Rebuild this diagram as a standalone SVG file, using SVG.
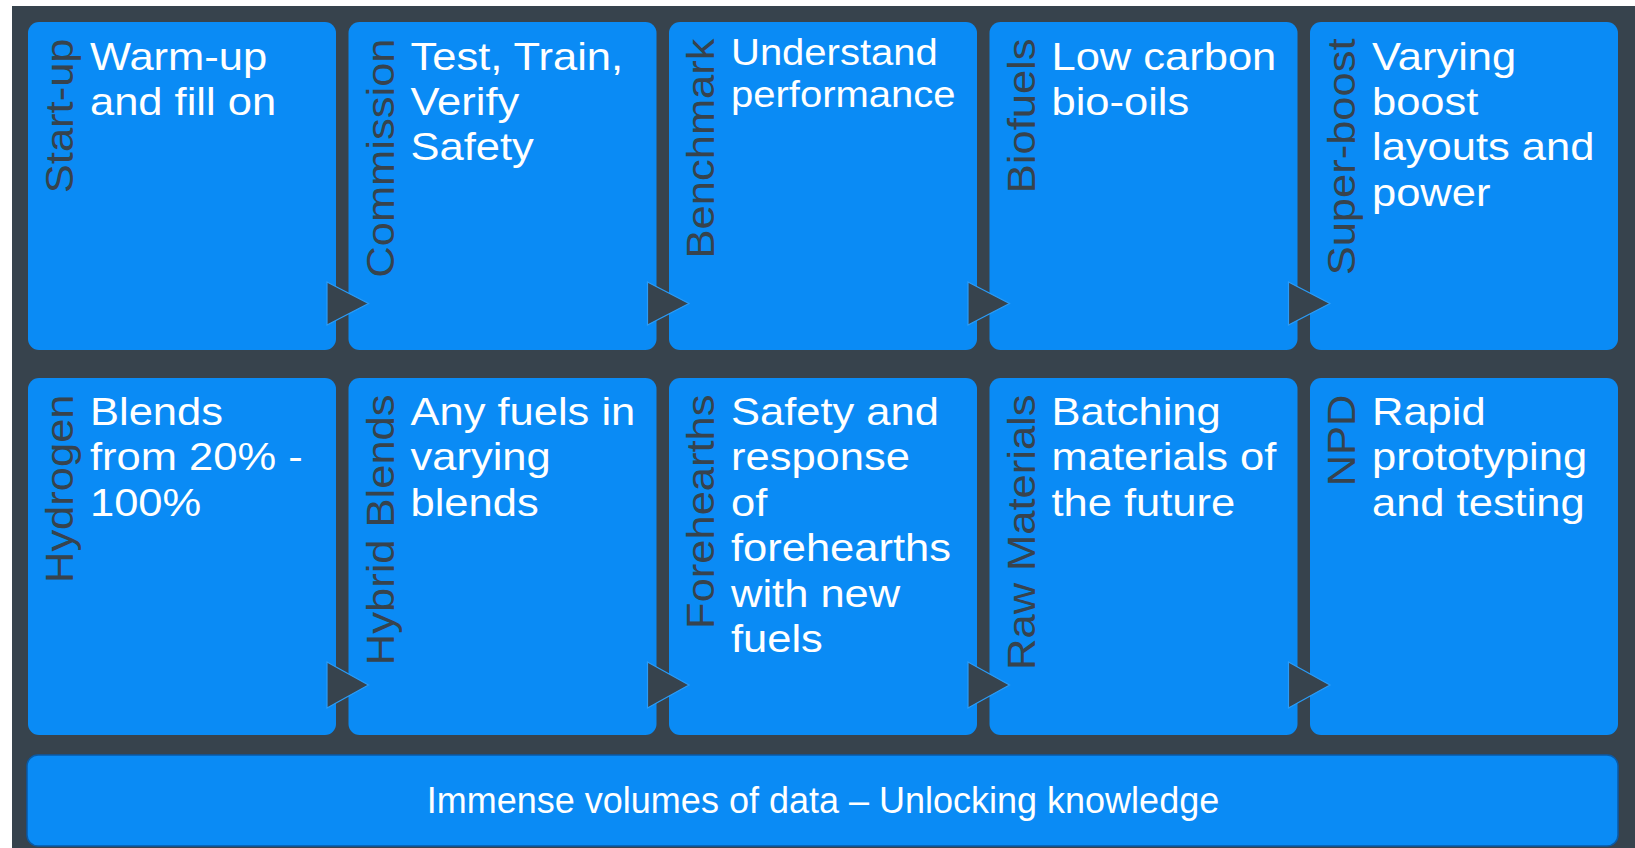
<svg xmlns="http://www.w3.org/2000/svg" width="1635" height="848" viewBox="0 0 1635 848">
<style>
.box{fill:#0a8bf5;}
.bar{fill:#0a8bf5;stroke:#0a5aa6;stroke-width:1.5;}
.txt{font-family:"Liberation Sans",Arial,sans-serif;font-size:43.5px;fill:#ffffff;}
.txt.sm{font-size:40px;}
.lbl{font-family:"Liberation Sans",Arial,sans-serif;font-size:43.5px;fill:#37434d;text-anchor:end;}
.bartxt{font-family:"Liberation Sans",Arial,sans-serif;font-size:36px;fill:#ffffff;text-anchor:middle;}
.arr{fill:#37434d;stroke:#2a9cf8;stroke-width:1.2;stroke-linejoin:miter;}
</style>
<rect x="0" y="0" width="1635" height="848" fill="#ffffff"/>
<rect x="12" y="6" width="1623" height="842" fill="#37434d"/>

<g id="startup">
<rect class="box" x="28" y="22" width="308" height="328" rx="11"/>
<text class="lbl" transform="translate(73,38.5) rotate(-90) scale(1,0.89)">Start-up</text>
<text class="txt" transform="translate(90,69.5) scale(1,0.89)"><tspan x="0" y="0">Warm-up</tspan><tspan x="0" dy="51.1">and fill on</tspan></text>
</g>
<g id="commission">
<rect class="box" x="348.5" y="22" width="308" height="328" rx="11"/>
<text class="lbl" transform="translate(393.5,38.5) rotate(-90) scale(1,0.89)">Commission</text>
<text class="txt" transform="translate(410.5,69.5) scale(1,0.89)"><tspan x="0" y="0">Test, Train,</tspan><tspan x="0" dy="51.1">Verify</tspan><tspan x="0" dy="51.1">Safety</tspan></text>
</g>
<g id="benchmark">
<rect class="box" x="669" y="22" width="308" height="328" rx="11"/>
<text class="lbl" transform="translate(714,38.5) rotate(-90) scale(1,0.89)">Benchmark</text>
<text class="txt sm" transform="translate(731,65) scale(1,0.92)"><tspan x="0" y="0">Understand</tspan><tspan x="0" dy="45.5">performance</tspan></text>
</g>
<g id="biofuels">
<rect class="box" x="989.5" y="22" width="308" height="328" rx="11"/>
<text class="lbl" transform="translate(1034.5,38.5) rotate(-90) scale(1,0.89)">Biofuels</text>
<text class="txt" transform="translate(1051.5,69.5) scale(1,0.89)"><tspan x="0" y="0">Low carbon</tspan><tspan x="0" dy="51.1">bio-oils</tspan></text>
</g>
<g id="superboost">
<rect class="box" x="1310" y="22" width="308" height="328" rx="11"/>
<text class="lbl" transform="translate(1355,38.5) rotate(-90) scale(1,0.89)">Super-boost</text>
<text class="txt" transform="translate(1372,69.5) scale(1,0.89)"><tspan x="0" y="0">Varying</tspan><tspan x="0" dy="51.1">boost</tspan><tspan x="0" dy="51.1">layouts and</tspan><tspan x="0" dy="51.1">power</tspan></text>
</g>

<g id="hydrogen">
<rect class="box" x="28" y="378" width="308" height="357" rx="11"/>
<text class="lbl" transform="translate(73,394.5) rotate(-90) scale(1,0.89)">Hydrogen</text>
<text class="txt" transform="translate(90,425) scale(1,0.89)"><tspan x="0" y="0">Blends</tspan><tspan x="0" dy="51.1">from 20% -</tspan><tspan x="0" dy="51.1">100%</tspan></text>
</g>
<g id="hybrid">
<rect class="box" x="348.5" y="378" width="308" height="357" rx="11"/>
<text class="lbl" transform="translate(393.5,394.5) rotate(-90) scale(1,0.89)">Hybrid Blends</text>
<text class="txt" transform="translate(410.5,425) scale(1,0.89)"><tspan x="0" y="0">Any fuels in</tspan><tspan x="0" dy="51.1">varying</tspan><tspan x="0" dy="51.1">blends</tspan></text>
</g>
<g id="forehearths">
<rect class="box" x="669" y="378" width="308" height="357" rx="11"/>
<text class="lbl" transform="translate(714,394.5) rotate(-90) scale(1,0.89)">Forehearths</text>
<text class="txt" transform="translate(731,425) scale(1,0.89)"><tspan x="0" y="0">Safety and</tspan><tspan x="0" dy="51.1">response</tspan><tspan x="0" dy="51.1">of</tspan><tspan x="0" dy="51.1">forehearths</tspan><tspan x="0" dy="51.1">with new</tspan><tspan x="0" dy="51.1">fuels</tspan></text>
</g>
<g id="rawmaterials">
<rect class="box" x="989.5" y="378" width="308" height="357" rx="11"/>
<text class="lbl" transform="translate(1034.5,394.5) rotate(-90) scale(1,0.89)">Raw Materials</text>
<text class="txt" transform="translate(1051.5,425) scale(1,0.89)"><tspan x="0" y="0">Batching</tspan><tspan x="0" dy="51.1">materials of</tspan><tspan x="0" dy="51.1">the future</tspan></text>
</g>
<g id="npd">
<rect class="box" x="1310" y="378" width="308" height="357" rx="11"/>
<text class="lbl" transform="translate(1355,394.5) rotate(-90) scale(1,0.89)">NPD</text>
<text class="txt" transform="translate(1372,425) scale(1,0.89)"><tspan x="0" y="0">Rapid</tspan><tspan x="0" dy="51.1">prototyping</tspan><tspan x="0" dy="51.1">and testing</tspan></text>
</g>

<g id="connectors">
<polygon class="arr" points="327,282 368.5,303.5 327,325"/>
<polygon class="arr" points="647.5,282 689,303.5 647.5,325"/>
<polygon class="arr" points="968,282 1009.5,303.5 968,325"/>
<polygon class="arr" points="1288.5,282 1330,303.5 1288.5,325"/>
<polygon class="arr" points="327,662 368.5,685 327,708"/>
<polygon class="arr" points="647.5,662 689,685 647.5,708"/>
<polygon class="arr" points="968,662 1009.5,685 968,708"/>
<polygon class="arr" points="1288.5,662 1330,685 1288.5,708"/>
</g>

<g id="data">
<rect class="bar" x="27" y="755" width="1591" height="91" rx="11"/>
<text class="bartxt" x="823" y="813">Immense volumes of data – Unlocking knowledge</text>
</g>
</svg>
